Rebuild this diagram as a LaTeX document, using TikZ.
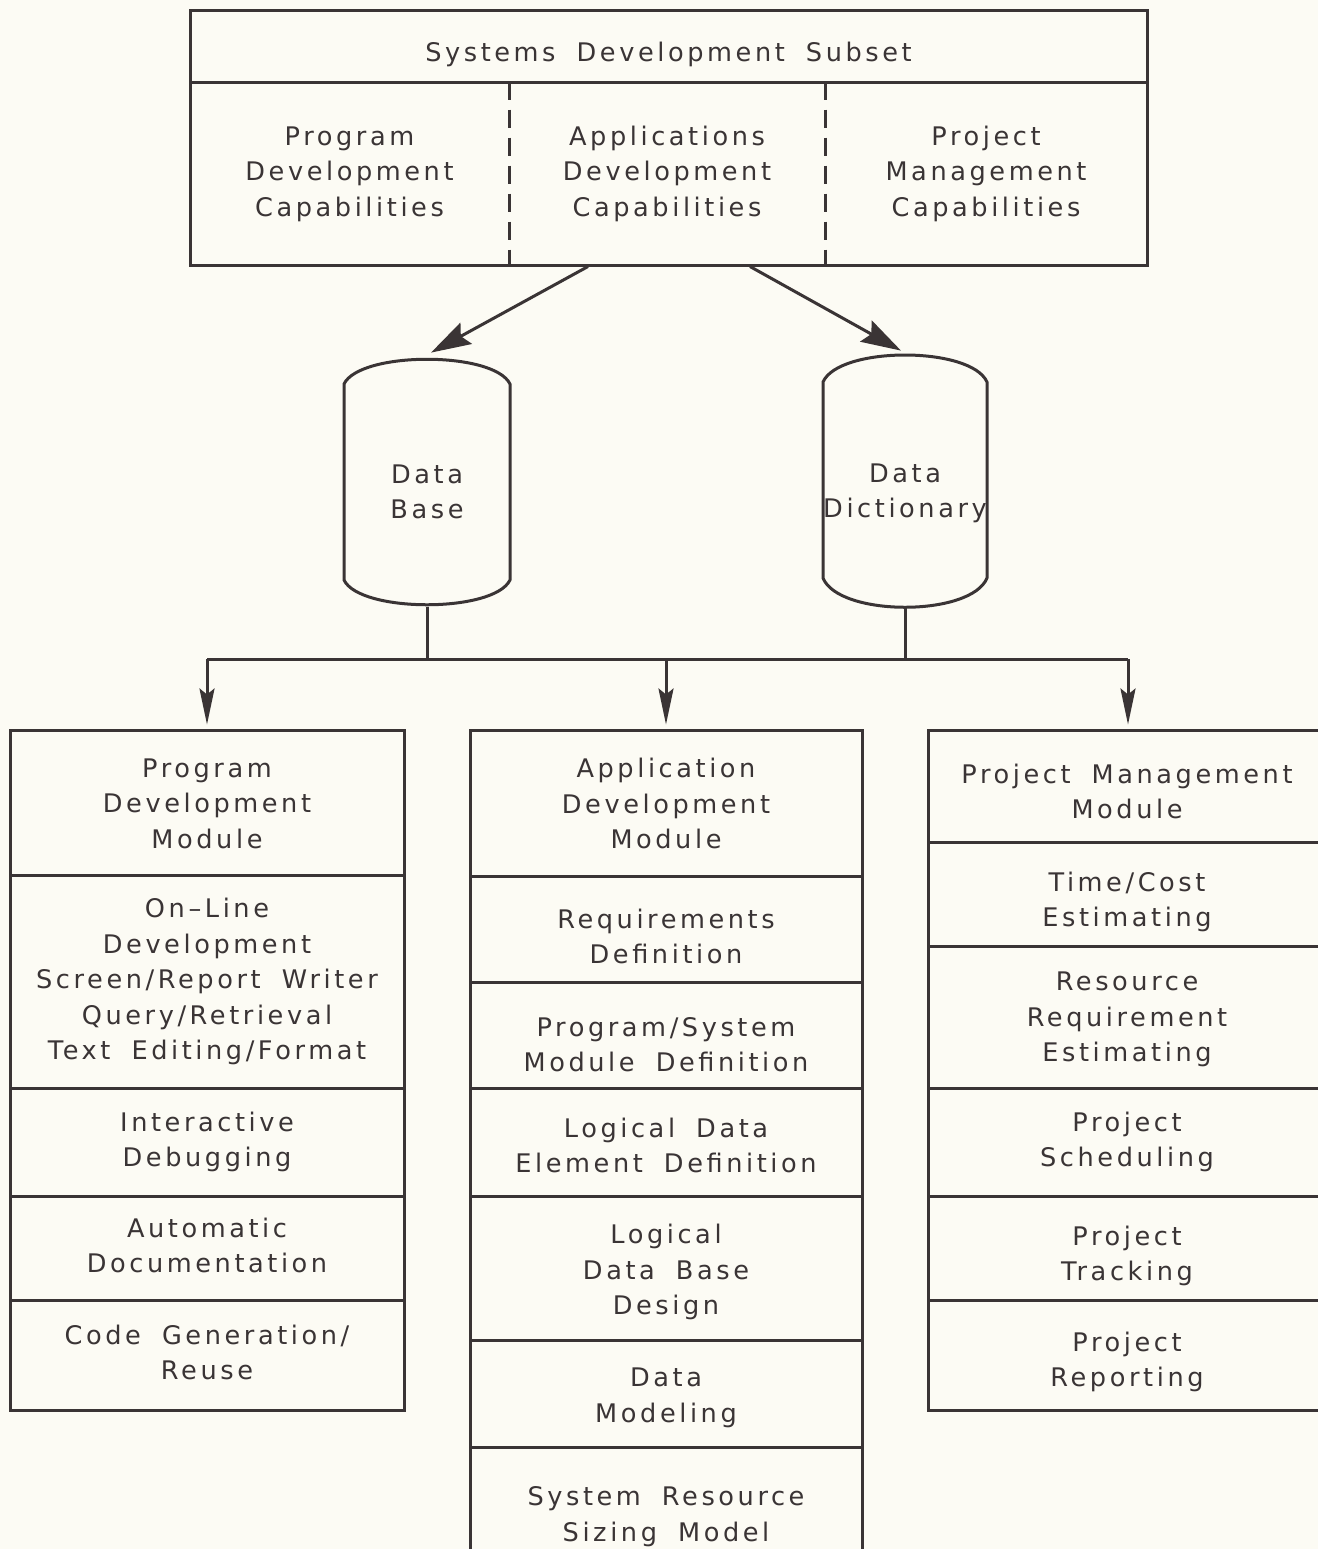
\documentclass[tikz,border=0pt]{standalone}
\usepackage{fontspec}
\setmainfont{DejaVu Sans}[LetterSpace=14, WordSpace=1.8]
\usetikzlibrary{arrows.meta}

\definecolor{ink}{RGB}{58,52,53}
\definecolor{paper}{RGB}{252,251,244}

% centred stack of lines used inside every cell; the optional
% argument lowers the lines (in pt) without changing the box size
\newcommand\celltext[2][0]{\raisebox{-#1pt}[\height][\depth]{\begin{tabular}{@{}c@{}}#2\end{tabular}}}

\begin{document}
\begin{tikzpicture}[x=0.5pt,y=-0.5pt,
  every node/.style={font=\fontsize{12.8}{17.75}\selectfont, text=ink},
  % a node filling the rectangle with corners (#1,#2) and (#3,#4)
  span/.style n args={4}{at={({(#1+#3)/2},{(#2+#4)/2})},
    minimum width={(#3-#1)*0.5pt}, minimum height={(#4-#2)*0.5pt}},
  boxcell/.style={draw=ink, line width=1.5pt, inner sep=0pt},
  plaincell/.style={inner sep=0pt},
  outline/.style={draw=ink, line width=1.5pt, line join=round},
  sep/.style={draw=ink, line width=1.4pt, dash pattern=on 9pt off 5pt},
  bigarrow/.style={draw=ink, line width=1.5pt, -{Stealth[length=20pt, width=12pt, inset=3pt]}},
  downarrow/.style={draw=ink, line width=1.5pt, -{Stealth[length=18pt, width=7.5pt, inset=3pt]}},
  wire/.style={draw=ink, line width=1.5pt}
]
\path[use as bounding box, fill=paper] (0,0) rectangle (1318,1549);

% ---- Top: systems development subset ----
\node[boxcell, span={190}{10}{1147}{82}] (title) {\celltext[4]{Systems Development Subset}};
\node[boxcell, span={190}{82}{1147}{265}] (capbox) {};
\node[plaincell, span={190}{82}{509}{265}] (pdc) {\celltext{Program\\Development\\Capabilities}};
\node[plaincell, span={509}{82}{825}{265}] (adc) {\celltext{Applications\\Development\\Capabilities}};
\node[plaincell, span={825}{82}{1147}{265}] (pmc) {\celltext{Project\\Management\\Capabilities}};
\draw[sep] (pdc.north east) -- (pdc.south east);
\draw[sep] (adc.north east) -- (adc.south east);

% ---- Storage cylinders ----
\node[plaincell, span={344}{357}{510}{607}] (db) {\celltext[6]{Data\\Base}};
\node[plaincell, span={823}{355}{987}{607}] (dd) {\celltext[6]{Data\\Dictionary}};
\draw[outline] (344,384) .. controls (360,351) and (494,351) .. (510,384)
  -- (510,580) .. controls (494,613) and (360,613) .. (344,580) -- cycle;
\draw[outline] (823,382) .. controls (839,346) and (971,346) .. (987,382)
  -- (987,578) .. controls (971,617) and (839,617) .. (823,578) -- cycle;

\draw[bigarrow] ([xshift=-40.25pt]capbox.south) -- ([xshift=2pt,yshift=2pt]db.north);
\draw[bigarrow] ([xshift=40.75pt]capbox.south) -- ([xshift=-2pt,yshift=2pt]dd.north);

% ---- Left column: program development ----
\node[boxcell, span={10}{730}{404}{875}] (l1) {\celltext[1.5]{Program\\Development\\Module}};
\node[boxcell, span={10}{875}{404}{1088}] (l2) {\celltext{On–Line\\Development\\Screen/Report Writer\\Query/Retrieval\\Text Editing/Format}};
\node[boxcell, span={10}{1088}{404}{1196}] (l3) {\celltext{Interactive\\Debugging}};
\node[boxcell, span={10}{1196}{404}{1300}] (l4) {\celltext{Automatic\\Documentation}};
\node[boxcell, span={10}{1300}{404}{1410}] (l5) {\celltext{Code Generation/\\Reuse}};

% ---- Middle column: application development ----
\node[boxcell, span={470}{730}{862}{876}] (m1) {\celltext[1.5]{Application\\Development\\Module}};
\node[boxcell, span={470}{876}{862}{982}] (m2) {\celltext[5]{Requirements\\Definition}};
\node[boxcell, span={470}{982}{862}{1088}] (m3) {\celltext[6]{Program/System\\Module Definition}};
\node[boxcell, span={470}{1088}{862}{1196}] (m4) {\celltext[3]{Logical Data\\Element Definition}};
\node[boxcell, span={470}{1196}{862}{1340}] (m5) {\celltext[2]{Logical\\Data Base\\Design}};
\node[boxcell, span={470}{1340}{862}{1447}] (m6) {\celltext[2]{Data\\Modeling}};
\node[boxcell, span={470}{1447}{862}{1578}] (m7) {\celltext[2]{System Resource\\Sizing Model}};

% ---- Right column: project management (runs off the right edge) ----
\node[boxcell, span={928}{730}{1326}{842}] (r1) {\celltext[4]{Project Management\\Module}};
\node[boxcell, span={928}{842}{1326}{946}] (r2) {\celltext[4]{Time/Cost\\Estimating}};
\node[boxcell, span={928}{946}{1326}{1088}] (r3) {\celltext[1]{Resource\\Requirement\\Estimating}};
\node[boxcell, span={928}{1088}{1326}{1196}] (r4) {\celltext{Project\\Scheduling}};
\node[boxcell, span={928}{1196}{1326}{1300}] (r5) {\celltext[4]{Project\\Tracking}};
\node[boxcell, span={928}{1300}{1326}{1410}] (r6) {\celltext[3.5]{Project\\Reporting}};

% ---- Distribution bus ----
\coordinate (busL) at (207,659);
\coordinate (busR) at (1128,659);
\draw[wire] (busL) -- (busR);
\draw[wire] (db.south) -- (db.south |- busL);
\draw[wire] (dd.south) -- (dd.south |- busL);
\draw[downarrow] (busL) -- ([yshift=2pt]l1.north);
\draw[downarrow] (m1.north |- busL) -- ([yshift=2pt]m1.north);
\draw[downarrow] (busR) -- ([yshift=2pt]busR |- r1.north);
\end{tikzpicture}
\end{document}
